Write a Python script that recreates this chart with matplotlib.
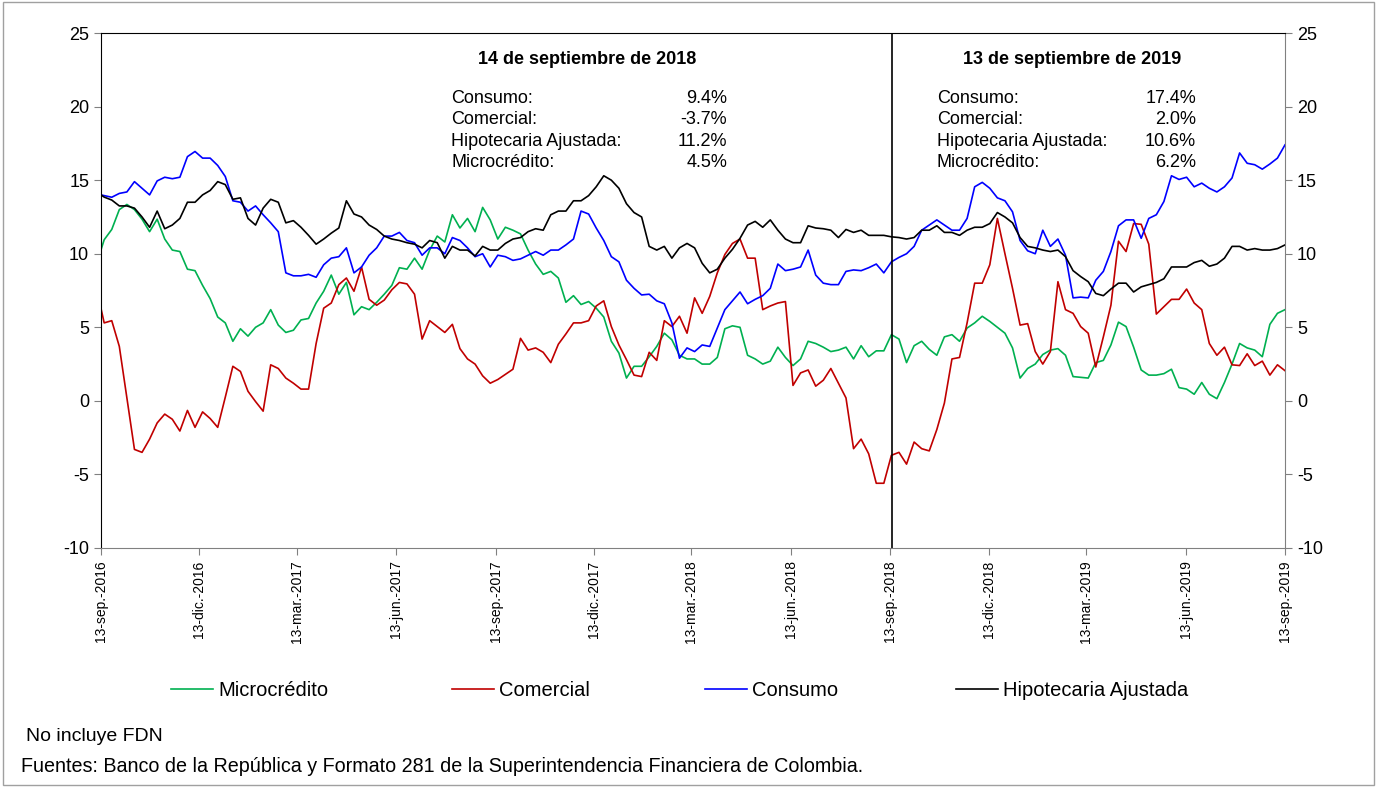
import matplotlib
matplotlib.use("Agg")
import matplotlib.pyplot as plt
import pandas as pd
from matplotlib.patches import Rectangle

# fechas: primer dato martes 13-sep-2016, luego viernes semanales
fechas = pd.DatetimeIndex(["2016-09-13"]).append(
    pd.date_range("2016-09-16", "2019-09-13", freq="7D"))

consumo = [14.0, 13.95, 13.84, 14.1, 14.2, 14.9, 14.45, 14.0, 14.95, 15.2, 15.1, 15.2, 16.6, 16.95,
           16.5, 16.5, 16.0, 15.25, 13.6, 13.5, 12.9, 13.25, 12.65, 12.1, 11.5, 8.7, 8.5,
           8.5, 8.6, 8.4, 9.25, 9.7, 9.8, 10.4, 8.7, 9.1, 9.9, 10.4, 11.2, 11.2, 11.45, 10.9,
           10.75, 9.9, 10.4, 10.4, 10.0, 11.1, 10.9, 10.4, 9.8, 10.0, 9.1,
           9.9, 9.8, 9.55, 9.65, 9.9, 10.15, 9.9, 10.25, 10.25, 10.6, 11.0, 12.9, 12.7, 11.75,
           10.9, 9.8, 9.45, 8.2, 7.65, 7.2, 7.25, 6.8, 6.6, 5.3, 2.9, 3.6,
           3.35, 3.8, 3.7, 4.95, 6.2, 6.8, 7.4, 6.6, 6.9, 7.15, 7.65, 9.3, 8.85, 8.95, 9.1,
           10.25, 8.55, 8.0, 7.9, 7.9, 8.8, 8.9, 8.85, 9.05, 9.3, 8.7,
           9.45, 9.75, 10.0, 10.5, 11.6, 11.95, 12.3, 11.95, 11.6, 11.6, 12.4, 14.55, 14.85,
           14.45, 13.8, 13.6, 12.85, 10.9, 10.2, 10.0, 11.6, 10.5, 11.0, 9.9, 7.0, 7.05,
           7.0, 8.2, 8.8, 10.15, 11.9, 12.3, 12.3, 11.05, 12.4, 12.65, 13.55, 15.3, 15.05,
           15.2, 14.55, 14.8, 14.45, 14.2, 14.55, 15.15, 16.85, 16.15, 16.05, 15.75, 16.1,
           16.5, 17.4]

hipotecaria = [14.0, 13.85, 13.65, 13.25, 13.25, 13.1, 12.5, 11.8, 12.9, 11.7, 11.95, 12.4, 13.5,
               13.5, 14.0, 14.3, 14.9, 14.7, 13.7, 13.8, 12.4, 11.95, 13.1, 13.7, 13.5, 12.1, 12.25,
               11.8, 11.25, 10.65, 11.0, 11.4, 11.75, 13.6, 12.7, 12.5, 11.95, 11.65, 11.2, 11.0,
               10.9, 10.75, 10.65, 10.4, 10.9, 10.75, 9.7, 10.5, 10.25, 10.25, 9.85, 10.5, 10.25,
               10.25, 10.7, 11.0, 11.1, 11.5, 11.7, 11.6, 12.65, 12.9, 12.9, 13.6, 13.6, 13.95,
               14.55, 15.3, 15.0, 14.45, 13.4, 12.8, 12.5, 10.5, 10.25, 10.5, 9.7, 10.4, 10.7,
               10.4, 9.35, 8.7, 8.95, 9.7, 10.3, 11.05, 11.95, 12.2, 11.8, 12.3, 11.6, 11.0,
               10.75, 10.75, 11.9, 11.75, 11.7, 11.6, 11.1, 11.65, 11.45, 11.6, 11.25, 11.25, 11.25,
               11.15, 11.1, 11.0, 11.1, 11.6, 11.6, 11.9, 11.45, 11.45, 11.25, 11.6, 11.8, 11.8,
               12.05, 12.8, 12.5, 12.1, 11.1, 10.5, 10.4, 10.25, 10.15, 10.25, 9.8, 8.85, 8.45,
               8.1, 7.3, 7.15, 7.6, 8.0, 8.0, 7.4, 7.75, 7.9, 8.05, 8.3, 9.1, 9.1, 9.1, 9.4, 9.55,
               9.15, 9.3, 9.7, 10.5, 10.5, 10.25, 10.35, 10.25, 10.25, 10.35, 10.6]

microcredito = [10.25, 10.95, 11.65, 13.0, 13.35, 13.0, 12.35, 11.5, 12.35, 11.0, 10.25, 10.15, 8.95,
                8.85, 7.85, 6.95, 5.7, 5.3, 4.05, 4.9, 4.4, 5.0, 5.3, 6.2, 5.15, 4.65, 4.8,
                5.5, 5.6, 6.65, 7.45, 8.55, 7.25, 8.05, 5.85, 6.4, 6.2, 6.7, 7.25, 7.85, 9.05, 8.95,
                9.7, 8.95, 10.25, 11.2, 10.8, 12.65, 11.75, 12.4, 11.5, 13.15, 12.3,
                11.0, 11.8, 11.6, 11.35, 10.25, 9.3, 8.6, 8.8, 8.35, 6.7, 7.15, 6.55, 6.75, 6.3,
                5.7, 4.05, 3.25, 1.55, 2.35, 2.35, 3.0, 3.7, 4.6, 4.15, 3.1, 2.85,
                2.85, 2.5, 2.5, 2.95, 4.9, 5.1, 5.0, 3.1, 2.85, 2.5, 2.7, 3.65, 2.95, 2.4, 2.85,
                4.05, 3.9, 3.65, 3.35, 3.45, 3.65, 2.85, 3.75, 3.0, 3.4, 3.4,
                4.5, 4.2, 2.6, 3.75, 4.05, 3.5, 3.1, 4.35, 4.5, 4.05, 4.95, 5.3, 5.75, 5.4, 5.0,
                4.6, 3.6, 1.55, 2.2, 2.5, 3.15, 3.45, 3.55, 3.1, 1.65, 1.6,
                1.55, 2.6, 2.75, 3.8, 5.35, 5.05, 3.65, 2.1, 1.75, 1.75, 1.85, 2.15, 0.9, 0.8,
                0.45, 1.25, 0.45, 0.15, 1.25, 2.5, 3.9, 3.6, 3.45, 3.0, 5.2, 5.95, 6.2]

comercial = [6.3, 5.3, 5.45, 3.7, 0.2, -3.3, -3.5, -2.6, -1.5, -0.9, -1.25, -2.05, -0.65, -1.8,
             -0.75, -1.2, -1.8, 0.25, 2.35, 2.0, 0.65, -0.05, -0.7, 2.45, 2.2, 1.55, 1.2,
             0.8, 0.8, 3.9, 6.3, 6.65, 7.9, 8.35, 7.45, 9.1, 6.9, 6.5, 6.85, 7.55, 8.05, 7.95,
             7.25, 4.2, 5.45, 5.05, 4.65, 5.2, 3.55, 2.85, 2.5, 1.7, 1.2,
             1.45, 1.8, 2.15, 4.25, 3.45, 3.6, 3.3, 2.6, 3.85, 4.55, 5.3, 5.3, 5.45, 6.45, 6.8,
             5.05, 3.8, 2.8, 1.75, 1.65, 3.3, 2.75, 5.45, 5.05, 5.75, 4.6,
             7.0, 5.95, 7.1, 8.7, 9.95, 10.7, 11.0, 9.7, 9.7, 6.2, 6.45, 6.65, 6.75, 1.05, 1.9,
             2.1, 1.0, 1.4, 2.2, 1.2, 0.2, -3.25, -2.6, -3.6, -5.6, -5.6,
             -3.7, -3.5, -4.3, -2.8, -3.25, -3.4, -1.95, -0.15, 2.85, 2.95, 5.3, 8.0, 8.0, 9.25,
             12.4, 10.0, 7.65, 5.15, 5.25, 3.35, 2.5, 3.35, 8.1, 6.2, 5.95, 5.05,
             4.6, 2.3, 4.35, 6.5, 10.85, 10.15, 12.05, 12.0, 10.65, 5.9, 6.4, 6.9, 6.9, 7.6,
             6.65, 6.2, 3.9, 3.1, 3.65, 2.45, 2.4, 3.2, 2.4, 2.7, 1.75, 2.45, 2.05]

fechas_ticks = pd.to_datetime(["2016-09-13", "2016-12-13", "2017-03-13", "2017-06-13", "2017-09-13",
                               "2017-12-13", "2018-03-13", "2018-06-13", "2018-09-13", "2018-12-13",
                               "2019-03-13", "2019-06-13", "2019-09-13"])
etiquetas_ticks = ["13-sep.-2016", "13-dic.-2016", "13-mar.-2017", "13-jun.-2017", "13-sep.-2017",
                   "13-dic.-2017", "13-mar.-2018", "13-jun.-2018", "13-sep.-2018", "13-dic.-2018",
                   "13-mar.-2019", "13-jun.-2019", "13-sep.-2019"]

nombres = ["Consumo:", "Comercial:", "Hipotecaria Ajustada:", "Microcrédito:"]
valores_2018 = ["9.4%", "-3.7%", "11.2%", "4.5%"]
valores_2019 = ["17.4%", "2.0%", "10.6%", "6.2%"]

plt.rcParams['font.family'] = ['Liberation Sans', 'DejaVu Sans']
plt.rcParams['axes.unicode_minus'] = False

fig = plt.figure(figsize=(13.77, 7.87), dpi=100)
ax = fig.add_axes([0.0733, 0.3037, 0.8599, 0.6543])

lw = 1.2
l1, = ax.plot(fechas, microcredito, color='#00B050', lw=lw, label='Microcrédito')
l2, = ax.plot(fechas, comercial, color='#C00000', lw=lw, label='Comercial')
l3, = ax.plot(fechas, consumo, color='#0000FF', lw=lw, label='Consumo')
l4, = ax.plot(fechas, hipotecaria, color='black', lw=lw, label='Hipotecaria Ajustada')

ax.axvline(pd.Timestamp("2018-09-15"), color='black', lw=1.2)

ax.set_xlim(fechas_ticks[0], fechas_ticks[-1])
ax.set_ylim(-10, 25)
ax.set_yticks(range(-10, 26, 5))
ax.set_xticks(fechas_ticks)
ax.set_xticklabels(etiquetas_ticks, rotation=90, fontsize=10)
ax.tick_params(axis='y', labelsize=13, direction='out', length=5, color='#808080',
               labelright=True, right=True)
ax.tick_params(axis='x', direction='out', length=5, color='#808080', pad=4)
for s in ['bottom', 'right']:
    ax.spines[s].set_color('#808080')
ax.spines['left'].set_color('black')
ax.spines['top'].set_color('black')

# recuadros de texto
ax.text(0.411, 0.948, "14 de septiembre de 2018", transform=ax.transAxes, fontsize=13,
        fontweight='bold', ha='center', va='center')
ax.text(0.82, 0.948, "13 de septiembre de 2019", transform=ax.transAxes, fontsize=13,
        fontweight='bold', ha='center', va='center')
ys = [0.873, 0.832, 0.789, 0.748]
for n, v1, v2, y in zip(nombres, valores_2018, valores_2019, ys):
    ax.text(0.296, y, n, transform=ax.transAxes, fontsize=13, va='center')
    ax.text(0.529, y, v1, transform=ax.transAxes, fontsize=13, va='center', ha='right')
    ax.text(0.706, y, n, transform=ax.transAxes, fontsize=13, va='center')
    ax.text(0.925, y, v2, transform=ax.transAxes, fontsize=13, va='center', ha='right')

# leyenda: una entrada por posicion, como en el original
pos_leyenda = [0.124, 0.328, 0.512, 0.694]
for h, xl in zip([l1, l2, l3, l4], pos_leyenda):
    fig.legend(handles=[h], loc='center left', bbox_to_anchor=(xl, 0.123), frameon=False,
               fontsize=14.5, handlelength=2.1, handletextpad=0.25, borderpad=0, borderaxespad=0)

fig.text(0.019, 0.059, "No incluye FDN", fontsize=14)
fig.text(0.015, 0.019, "Fuentes: Banco de la República y Formato 281 de la Superintendencia Financiera de Colombia.",
         fontsize=14.2)

fig.patches.append(Rectangle((0.002, 0.002), 0.996, 0.996, transform=fig.transFigure,
                             fill=False, edgecolor='#a0a0a0', lw=1))

fig.savefig("out.png", dpi=100)
